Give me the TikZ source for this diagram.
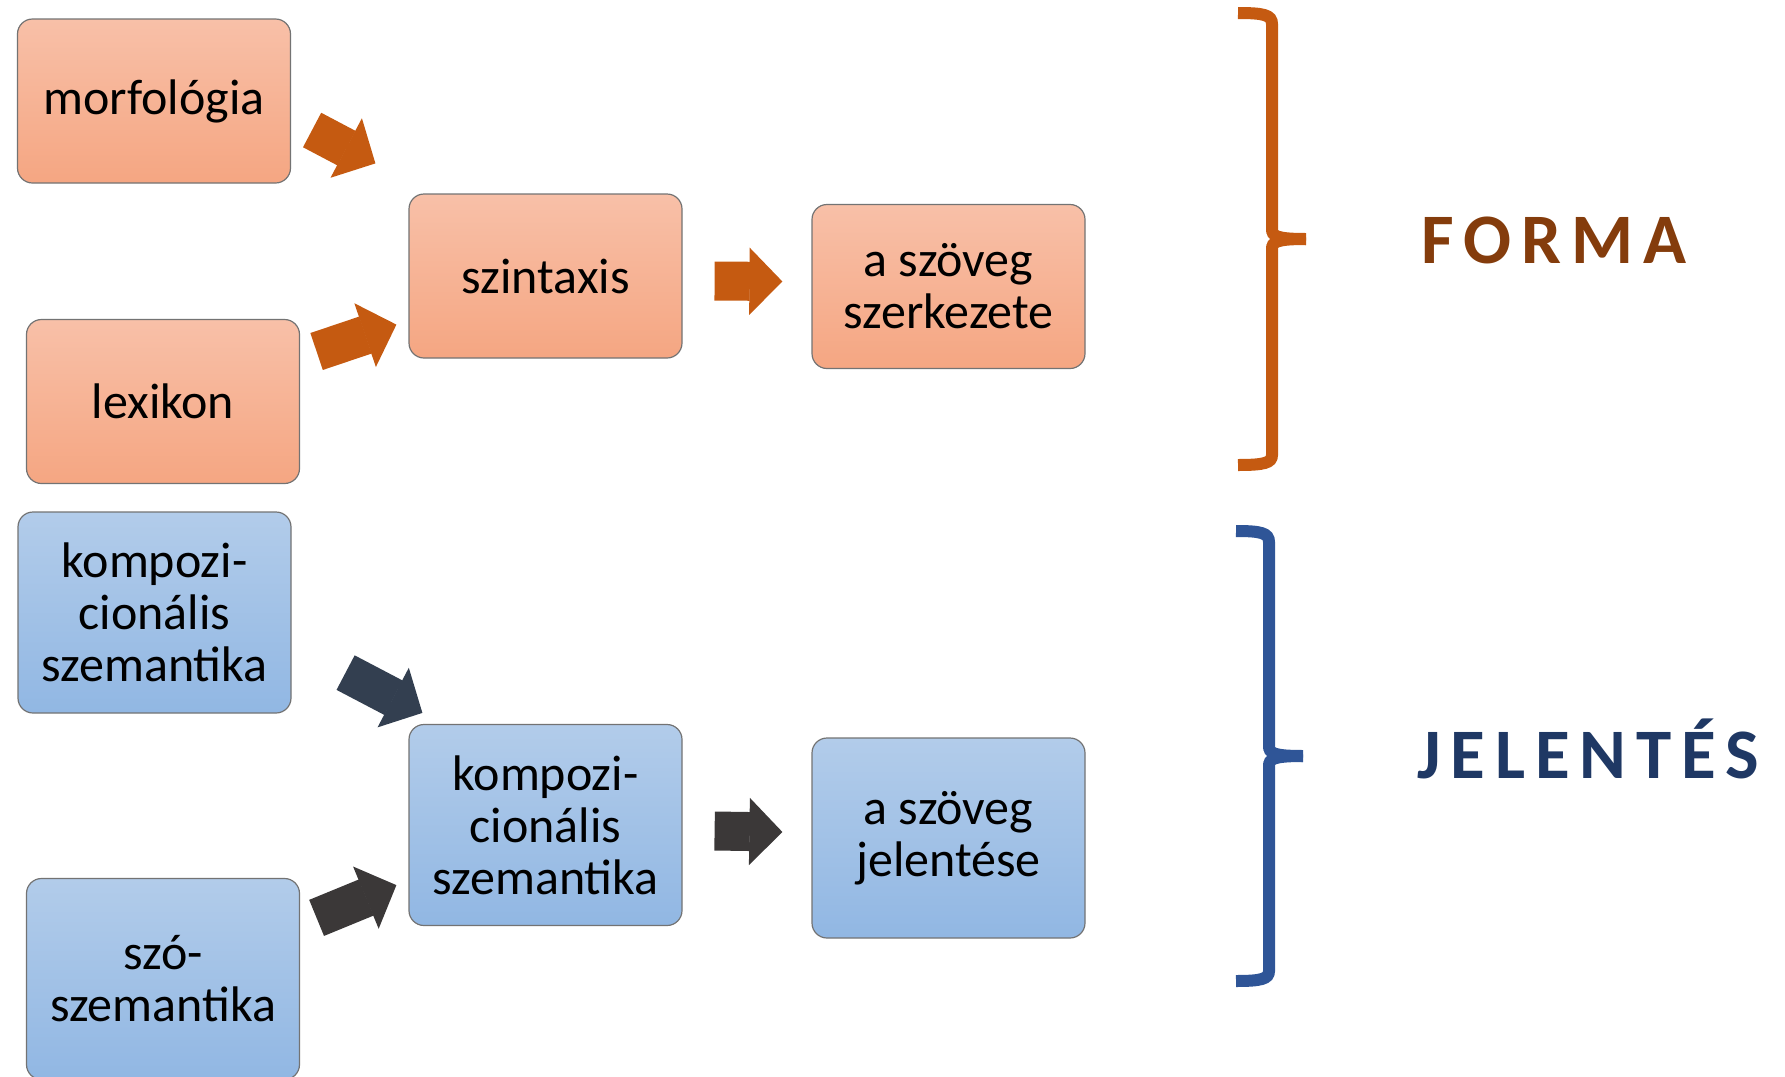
\documentclass[tikz,border=0pt]{standalone}
\usepackage{fontspec}
\setmainfont{Carlito}
\newfontfamily\headfont[LetterSpace=14]{Carlito}
\usetikzlibrary{arrows.meta}

\definecolor{ortop}{RGB}{248,192,168}
\definecolor{orbot}{RGB}{245,166,130}
\definecolor{bltop}{RGB}{178,204,234}
\definecolor{blbot}{RGB}{145,183,227}
\definecolor{orarrow}{RGB}{197,90,17}
\definecolor{slatearrow}{RGB}{51,63,80}
\definecolor{grayarrow}{RGB}{59,56,56}
\definecolor{formacol}{RGB}{132,60,12}
\definecolor{jelcol}{RGB}{31,56,100}
\definecolor{blbrace}{RGB}{47,85,151}

\begin{document}
\begin{tikzpicture}[x = 0.5pt, y = -0.5pt,
    box/.style = {rounded corners = 7.5pt, draw = black!55, line width = 0.6pt, inner sep = 0pt,
                  minimum width = 136.5pt, align = center, font = \fontsize{25}{26}\selectfont},
    obox/.style = {box, top color = ortop, bottom color = orbot, minimum height = 82pt},
    bbox/.style = {box, top color = bltop, bottom color = blbot, minimum height = 100.5pt},
    blockarr/.style = {line width = 19.5pt, -{Triangle[length = 16.5pt, width = 33.5pt, line width = 0.8pt]}},
    brace/.style = {line width = 6pt},
    head/.style = {anchor = base west, inner sep = 0pt, font = \headfont\bfseries\fontsize{35.5}{36}\selectfont}]
    \useasboundingbox (0,0) rectangle (1785,1077);

    % forma
    \node[obox]                 (morf)  at (154,101)    {morfológia};
    \node[obox]                 (lex)   at (163,401.5)  {lexikon};
    \node[obox]                 (szint) at (545.5,276)  {szintaxis};
    \node[obox]                 (szov)  at (948.5,286.5) {a szöveg\\szerkezete};

    % jelentes
    \node[bbox]                 (komp)  at (154.5,612.5) {kompozi-\\cionális\\szemantika};
    \node[bbox]                 (szo)   at (163,979)    {szó-\\szemantika};
    \node[bbox]                 (kc)    at (545.5,825)  {kompozi-\\cionális\\szemantika};
    \node[bbox, minimum height = 100pt] (jel) at (948.5,838) {a szöveg\\jelentése};

    \draw[blockarr, orarrow]    ([shift={(21,29)}]morf.east)        -- ([shift={(-33,-30)}]szint.north west);
    \draw[blockarr, orarrow]    ([shift={(16.5,-50)}]lex.east)      -- ([shift={(-12,-34)}]szint.south west);
    \draw[blockarr, orarrow]    ([shift={(32,5)}]szint.east)        -- ([shift={(-29,-5)}]szov.west);
    \draw[blockarr, slatearrow] ([shift={(54,-41)}]komp.south east) -- ([shift={(14,-11)}]kc.north west);
    \draw[blockarr, grayarrow]  ([shift={(16.5,40)}]szo.north east) -- ([shift={(-12,-41)}]kc.south west);
    \draw[blockarr, grayarrow]  ([shift={(32,6)}]kc.east)           -- ([shift={(-29,-6)}]jel.west);

    % braces
    \draw[brace, orarrow] (1238,13) .. controls (1264,13) and (1272,15) .. (1272,24) -- (1272,229)
        .. controls (1272,236) and (1276,239) .. (1306,239);
    \draw[brace, orarrow] (1306,239) .. controls (1276,239) and (1272,242) .. (1272,249) -- (1272,455)
        .. controls (1272,463) and (1264,465) .. (1238,465);
    \draw[brace, blbrace] (1236,531) .. controls (1261,531) and (1269,533) .. (1269,542) -- (1269,746)
        .. controls (1269,753) and (1273,756) .. (1303,756);
    \draw[brace, blbrace] (1303,756) .. controls (1273,756) and (1269,759) .. (1269,766) -- (1269,971)
        .. controls (1269,979) and (1261,981) .. (1236,981);

    \node[head, text = formacol] (forma) at (1421,263) {FORMA};
    \node[head, text = jelcol]   (jelentes) at (1417,778) {JELENTÉS};
\end{tikzpicture}
\end{document}
